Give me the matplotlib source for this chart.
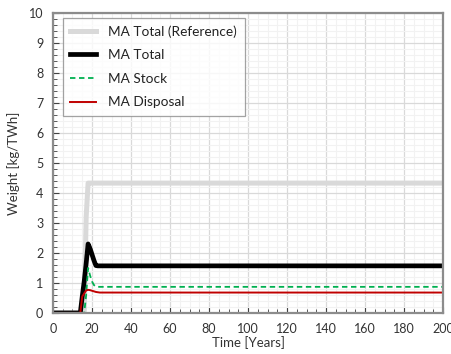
import matplotlib
matplotlib.use("Agg")
import matplotlib.pyplot as plt
from matplotlib.ticker import MultipleLocator

plt.rcParams['font.family'] = ['Lato', 'DejaVu Sans']

# data (years, kg/TWh)
years = [0, 14, 15, 16, 17, 18, 19, 20, 21, 22, 23, 24, 200]
ma_total_ref = [0, 0, 0, 0, 3.2, 4.33, 4.33, 4.33, 4.33, 4.33, 4.33, 4.33, 4.33]
ma_total = [0, 0, 0.55, 1.05, 1.65, 2.3, 2.15, 1.95, 1.75, 1.58, 1.57, 1.57, 1.57]
ma_stock = [0, 0, 0, 0, 0.6, 1.5, 1.25, 1.05, 0.93, 0.88, 0.87, 0.87, 0.87]
ma_disposal = [0, 0, 0.55, 0.65, 0.75, 0.77, 0.76, 0.74, 0.72, 0.70, 0.69, 0.68, 0.68]

fig = plt.figure(figsize=(4.51, 3.54), dpi=100)
ax = fig.add_axes([0.1175, 0.116, 0.865, 0.847])

ax.plot(years, ma_total_ref, color='#d9d9d9', lw=3.6, label='MA Total (Reference)')
ax.plot(years, ma_total, color='black', lw=3.4, label='MA Total')
ax.plot(years, ma_stock, color='#00b050', lw=1.3, ls=(0, (3, 2)), label='MA Stock')
ax.plot(years, ma_disposal, color='#c00000', lw=1.4, label='MA Disposal')

ax.set_xlim(0, 200)
ax.set_ylim(0, 10)
ax.xaxis.set_major_locator(MultipleLocator(20))
ax.xaxis.set_minor_locator(MultipleLocator(5))
ax.yaxis.set_major_locator(MultipleLocator(1))
ax.yaxis.set_minor_locator(MultipleLocator(0.2))

ax.grid(which='major', color='#d9d9d9', lw=0.9)
ax.grid(which='minor', color='#f2f2f2', lw=0.8)
ax.set_axisbelow(True)

ax.tick_params(which='both', direction='in', labelsize=9, color='#404040')
ax.tick_params(which='major', length=4, width=0.8, pad=7)
ax.tick_params(which='minor', length=3, width=0.6)
ax.tick_params(axis='both', labelcolor='#333333')

for s in ax.spines.values():
    s.set_color('#8c8c8c')
    s.set_linewidth(1.6)

ax.set_xlabel('Time [Years]', fontsize=9.5, color='#333333', labelpad=1)
ax.set_ylabel('Weight [kg/TWh]', fontsize=9.5, color='#333333', labelpad=6)

leg = ax.legend(loc='upper left', bbox_to_anchor=(0.025, 0.985), fontsize=9.8,
                frameon=True, fancybox=False, edgecolor='#8c8c8c',
                handlelength=1.9, labelspacing=0.85, borderpad=0.55,
                handletextpad=0.9, borderaxespad=0)
leg.get_frame().set_linewidth(0.9)
for t in leg.get_texts():
    t.set_color('#222222')

fig.savefig('out.png', dpi=100)
